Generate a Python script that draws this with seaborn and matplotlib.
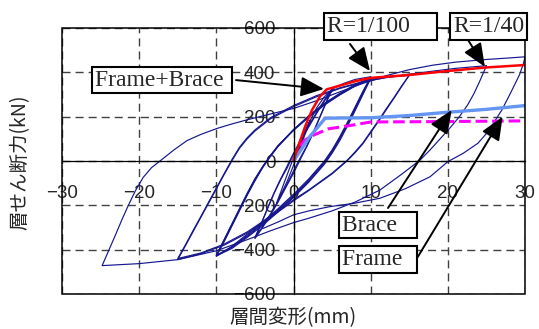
import matplotlib
matplotlib.use('Agg')
import matplotlib.pyplot as plt
from matplotlib.patches import Rectangle
import pandas as pd
import seaborn as sns

# skeleton curves (x: story drift mm, f: story shear kN)
env_x = [0, 0.7, 1.5, 2.4, 3.4, 4.3, 6, 8, 10, 15, 20, 25, 30]
env_f = [0, 75, 155, 230, 290, 323, 340, 360, 375, 388, 406, 422, 433]

brace_x = [0, 1.1, 2.1, 3.2, 4.1, 6, 10, 15, 20, 25, 30]
brace_f = [0, 57, 110, 155, 193, 194, 195, 205, 220, 233, 250]

frame_x = [0, 0.5, 1.5, 2.5, 4.5, 7.3, 10, 20, 30]
frame_f = [0, 50, 95, 115, 145, 160, 176, 178, 181]

# measured hysteresis, one list per cycle
cyc2_x = [0, 0.8, 1.6, 2.2, 1.6, 0.8, 0, -0.8, -1.6, -2.2, -1.6, -0.8, 0, 0.8, 1.6, 2.2]
cyc2_f = [0, 70, 140, 185, 130, 55, -20, -90, -150, -190, -135, -60, 15, 85, 145, 185]

cyc5a_x = [2.2, 3, 4, 5, 4.2, 3.4, 2.6, 1.8, 1, 0, -1, -2, -3, -4, -5,
           -4.2, -3.4, -2.6, -1.8, -1, 0, 1, 2, 3, 4, 5]
cyc5a_f = [185, 240, 290, 322, 260, 195, 130, 70, 15, -55, -120, -185, -245, -300, -350,
           -285, -215, -150, -90, -35, 35, 100, 160, 220, 275, 325]

cyc5b_x = [5, 4.1, 3.3, 2.5, 1.6, 0.8, 0, -1, -2, -3, -4, -5,
           -4.1, -3.3, -2.5, -1.6, -0.8, 0, 1, 2, 3, 4, 5.3, 6.5, 8, 10]
cyc5b_f = [325, 255, 190, 125, 60, 10, -45, -115, -180, -240, -295, -345,
           -275, -210, -145, -80, -30, 30, 95, 155, 215, 270, 330, 350, 368, 380]

cyc10_x = [10, 9, 8, 7, 6, 5, 4, 2, 0, -2, -4, -6, -8, -10,
           -9, -8, -7, -6, -5, -4, -3, -2, 0, 2, 4, 6, 8, 10]
cyc10a_f = [380, 315, 245, 175, 110, 50, 0, -80, -150, -215, -275, -330, -385, -430,
            -365, -295, -225, -155, -90, -30, 20, 65, 140, 205, 260, 305, 345, 375]
cyc10b_f = [375, 305, 235, 165, 100, 40, -10, -90, -160, -225, -285, -340, -390, -425,
            -355, -285, -215, -145, -80, -25, 25, 70, 140, 200, 255, 300, 340, 372]
cyc10d_f = [373, 310, 240, 170, 105, 45, -5, -85, -155, -220, -280, -336, -388, -427,
            -360, -290, -220, -150, -84, -27, 23, 68, 142, 203, 258, 303, 343, 372]
cyc10c_x = cyc10_x + [12, 15]
cyc10c_f = [372, 300, 228, 158, 92, 35, -15, -95, -165, -230, -290, -345, -395, -428,
            -358, -288, -218, -150, -85, -28, 22, 68, 138, 198, 252, 298, 338, 370, 380, 386]

cyc15_x = [15, 14, 13, 12, 11, 10, 9, 8, 7, 5, 2, 0, -3, -6, -9, -12, -15,
           -14, -13, -12, -11, -10, -9, -8, -7, -6, -5, -3, 0, 3, 6, 9, 12, 15]
cyc15a_f = [386, 338, 285, 235, 182, 132, 82, 42, 5, -55, -130, -175, -250, -320, -375, -415, -440,
            -378, -313, -250, -185, -122, -58, 5, 62, 105, 140, 195, 250, 295, 330, 358, 376, 388]
cyc15b_x = cyc15_x + [18, 21, 25]
cyc15b_f = [388, 335, 282, 230, 178, 128, 78, 38, 2, -58, -133, -180, -255, -325, -380, -418, -445,
            -382, -318, -254, -190, -126, -62, 0, 57, 100, 135, 190, 245, 290, 327, 356, 377, 392,
            405, 418, 430]

cyc25_x = [25, 24.2, 23.4, 22.6, 21.5, 20.3, 19, 17.7, 16.4, 14, 11.2, 8, 5, 2, 0, -3, -6, -10,
           -15, -20, -24.8, -24.4, -23.9, -23, -22.2, -21.4, -20.5, -19.5, -18.4, -17.3, -15.5,
           -13.8, -12, -9.9, -8, -6.1, -3, 0, 3, 6, 9, 12, 15, 18, 21, 25, 28, 30]
cyc25_f = [430, 365, 305, 255, 200, 150, 100, 50, 4, -60, -131, -185, -225, -258, -278, -315, -355, -405,
           -445, -463, -472, -440, -400, -328, -262, -200, -135, -75, -30, 0, 50,
           92, 120, 147, 167, 185, 212, 237, 272, 312, 350, 385, 412, 432, 446, 458, 465, 470]

cyc30_x = [30, 29.8, 29.3, 28.6, 28, 27, 25.9, 24.9, 23.9, 22, 20, 17.7, 14.5, 11.2, 8, 4.7, 2, 0, -2, -4]
cyc30_f = [470, 440, 390, 340, 298, 230, 170, 120, 80, 35, -3, -71, -125, -168, -190, -206, -225, -243, -275, -305]

x_ticks = [-30, -20, -10, 0, 10, 20, 30]
y_ticks = [-600, -400, -200, 0, 200, 400, 600]

cycles = [(cyc2_x, cyc2_f), (cyc5a_x, cyc5a_f), (cyc5b_x, cyc5b_f),
          (cyc10_x, cyc10a_f), (cyc10_x, cyc10b_f), (cyc10_x, cyc10d_f), (cyc10c_x, cyc10c_f),
          (cyc15_x, cyc15a_f), (cyc15b_x, cyc15b_f), (cyc25_x, cyc25_f), (cyc30_x, cyc30_f)]
hyst = pd.concat([pd.DataFrame({'x': cx, 'f': cf, 'seg': i})
                  for i, (cx, cf) in enumerate(cycles)], ignore_index=True)

sns.set_style('white')
plt.rcParams['font.family'] = ['Liberation Sans', 'Noto Sans CJK JP']
plt.rcParams['axes.unicode_minus'] = True

fig = plt.figure(figsize=(5.39, 3.29), dpi=100)
ax = fig.add_axes([62/539, 1-294/329, 463/539, 266/329])

sns.lineplot(data=hyst, x='x', y='f', units='seg', estimator=None, sort=False,
             color='#16168f', lw=0.85, ax=ax, legend=False)
sns.lineplot(x=frame_x, y=frame_f, sort=False, color='#ff00ff', lw=2.2,
             linestyle=(0, (3.8, 1.6)), ax=ax)
sns.lineplot(x=brace_x, y=brace_f, sort=False, color='#6495f0', lw=2.4, ax=ax)
sns.lineplot(x=env_x, y=env_f, sort=False, color='#ff0000', lw=1.8, ax=ax)

ax.set_xlim(-30, 30)
ax.set_ylim(-600, 600)
ax.set_xticks(x_ticks)
ax.set_yticks(y_ticks)
ax.set_xlabel('')
ax.set_ylabel('')
ax.grid(True, color='#404040', lw=1.0, ls=(0, (5.8, 3.6)))
ax.set_axisbelow(True)

for side in ['top', 'right']:
    ax.spines[side].set_visible(False)
ax.spines['left'].set_position(('data', 0))
ax.spines['bottom'].set_position(('data', 0))
for side in ['left', 'bottom']:
    ax.spines[side].set_color('black')
    ax.spines[side].set_linewidth(0.9)
ax.add_patch(Rectangle((0, 0), 1, 1, transform=ax.transAxes, fill=False,
                       ec='black', lw=1.1, clip_on=False, zorder=5))
ax.tick_params(axis='y', length=0, pad=13, labelsize=13.5)
ax.tick_params(axis='x', length=0, pad=17, labelsize=13.5)

box = dict(boxstyle='square,pad=0.12', fc='white', ec='black', lw=1.5)
serif = 'Liberation Serif'
ax.text(-25.72, 365, 'Frame+Brace ', fontsize=17, family=serif, ha='left', va='center',
        bbox=box, zorder=10)
ax.text(4.38, 606, 'R=1/100    ', fontsize=17, family=serif, ha='left', va='center',
        bbox=box, zorder=10, clip_on=False)
ax.text(20.7, 606, 'R=1/40', fontsize=17, family=serif, ha='left', va='center',
        bbox=box, zorder=10, clip_on=False)
ax.text(6.24, -289, 'Brace   ', fontsize=17, family=serif, ha='left', va='center',
        bbox=box, zorder=10)
ax.text(6.24, -444, 'Frame  ', fontsize=17, family=serif, ha='left', va='center',
        bbox=box, zorder=10)

arrow = dict(arrowstyle='-|>,head_length=0.75,head_width=0.32', color='black', lw=1.4,
             mutation_scale=19, shrinkA=0, shrinkB=0)
for tail, tip in [((-7.45, 365), (3.95, 325)), ((7.32, 528), (9.91, 406)),
                  ((22.4, 558), (24.8, 425)), ((12.25, -212), (20.5, 230)),
                  ((16.1, -433), (27.1, 200))]:
    ax.annotate('', xy=tip, xytext=tail, arrowprops=arrow, zorder=9)

cjk = ['Noto Sans CJK JP', 'DejaVu Sans']
fig.text(20/539, 1-162/329, '層せん断力(kN)', rotation=90, ha='center', va='center',
         fontsize=14, family=cjk)
fig.text(293/539, 1-318/329, '層間変形(mm)', ha='center', va='center', fontsize=14, family=cjk)

fig.savefig('out.png', dpi=100)
